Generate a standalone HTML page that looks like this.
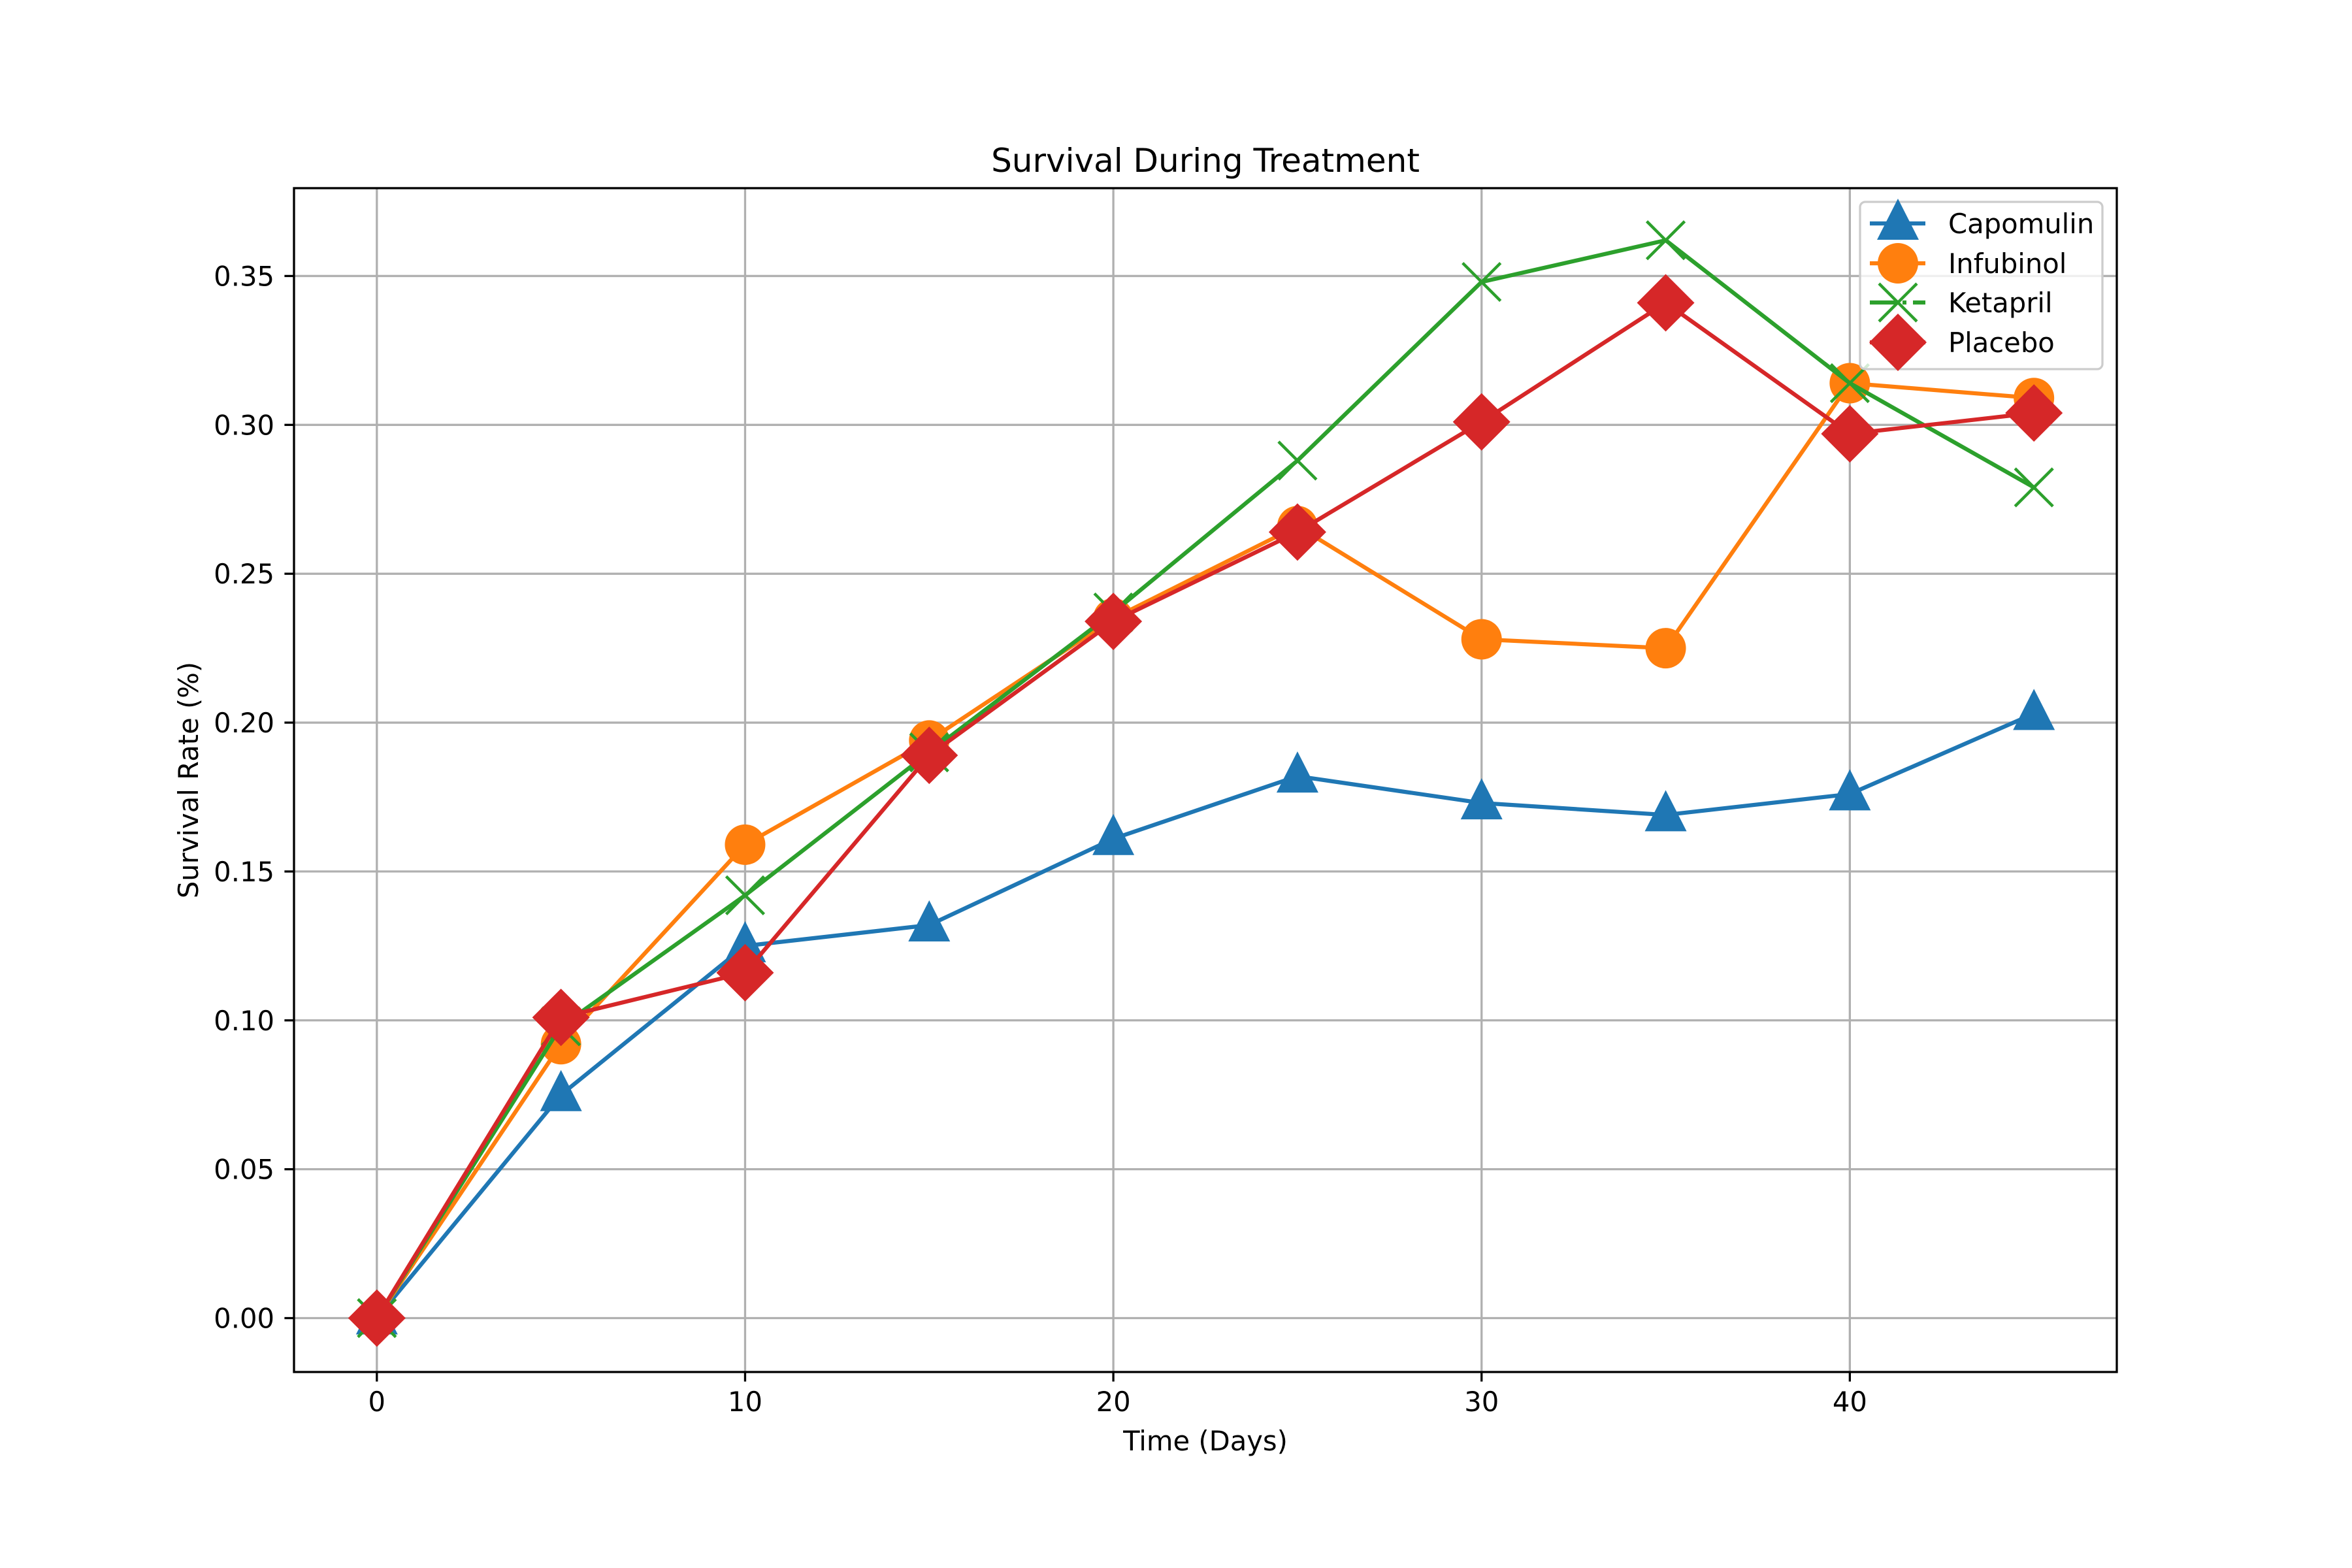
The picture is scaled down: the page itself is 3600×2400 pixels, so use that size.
<!DOCTYPE html>
<html><head><meta charset="utf-8"><style>
html,body{margin:0;padding:0;background:#fff;}
svg{display:block;}
text{font-family:"DejaVu Sans","Liberation Sans",sans-serif;fill:#000;}
</style></head><body>
<svg id="chart" width="3600" height="2400" viewBox="0 0 3600 2400" xmlns="http://www.w3.org/2000/svg">
<rect width="3600" height="2400" fill="#fff"/>
<g id="grid"></g>
<g id="series"></g>
<rect x="450" y="288" width="2790" height="1812" fill="none" stroke="#000" stroke-width="3.3"/>
<g id="ticks"></g>
<text x="1845" y="263" font-size="50" text-anchor="middle">Survival During Treatment</text>
<text x="1845" y="2220" font-size="41.7" text-anchor="middle">Time (Days)</text>
<text x="0" y="0" font-size="41.7" text-anchor="middle" transform="translate(303,1194) rotate(-90)">Survival Rate (%)</text>
<g id="legend">
<rect x="2847" y="309" width="371" height="256" rx="8" fill="#fff" fill-opacity="0.8" stroke="#cccccc" stroke-width="3.3"/>
</g>
</svg>
<script>
const days = [0,5,10,15,20,25,30,35,40,45];
const seriesNames = ["Capomulin","Infubinol","Ketapril","Placebo"];
const capomulin = [0,0.075,0.125,0.132,0.161,0.182,0.173,0.169,0.176,0.203];
const infubinol = [0,0.092,0.159,0.194,0.235,0.266,0.228,0.225,0.314,0.309];
const ketapril = [0,0.098,0.142,0.190,0.237,0.288,0.348,0.362,0.314,0.279];
const placebo = [0,0.101,0.116,0.189,0.234,0.264,0.301,0.341,0.297,0.304];
const xTicks = [0,10,20,30,40];
const yTicks = [0,0.05,0.10,0.15,0.20,0.25,0.30,0.35];
const yTickLabels = ["0.00","0.05","0.10","0.15","0.20","0.25","0.30","0.35"];

const NS = "http://www.w3.org/2000/svg";
const L=450,R=3240,T=288,B=2100;
const xMin=-2.25,xMax=47.25,yMin=-0.0181,yMax=0.3795;
function xs(v){return L+(v-xMin)/(xMax-xMin)*(R-L);}
function ys(v){return B-(v-yMin)/(yMax-yMin)*(B-T);}
function mk(tag,attrs,parent){const e=document.createElementNS(NS,tag);for(const k in attrs)e.setAttribute(k,attrs[k]);parent.appendChild(e);return e;}

const grid=document.getElementById('grid'),ticks=document.getElementById('ticks');
xTicks.forEach((t,i)=>{
  const x=xs(t);
  const g=mk('line',{x1:x,x2:x,y1:T,y2:B,stroke:'#b0b0b0','stroke-width':3.3},grid);
  
  
  const tk=mk('line',{x1:x,x2:x,y1:B,y2:B+14.6,stroke:'#000','stroke-width':3.3},ticks);
  
  
  const tx=mk('text',{x:x,y:B+60,'font-size':41.7,'text-anchor':'middle'},ticks);
  tx.textContent=String(t);
  
  
});
yTicks.forEach((t,i)=>{
  const y=ys(t);
  const g=mk('line',{x1:L,x2:R,y1:y,y2:y,stroke:'#b0b0b0','stroke-width':3.3},grid);
  
  
  const tk=mk('line',{x1:L-14.6,x2:L,y1:y,y2:y,stroke:'#000','stroke-width':3.3},ticks);
  
  
  const tx=mk('text',{x:L-30,y:y+15,'font-size':41.7,'text-anchor':'end'},ticks);
  tx.textContent=yTickLabels[i];
  
  
});

const colors=["#1f77b4","#ff7f0e","#2ca02c","#d62728"];
const markers=["tri","circ","x","diam"];
const values=[capomulin,infubinol,ketapril,placebo];

function marker(type,cx,cy,color,parent){
  let e;
  if(type==='tri'){e=mk('polygon',{points:`${cx},${cy-38} ${cx-32},${cy+25} ${cx+32},${cy+25}`,fill:color},parent);}
  else if(type==='circ'){e=mk('circle',{cx:cx,cy:cy,r:31,fill:color},parent);}
  else if(type==='diam'){e=mk('polygon',{points:`${cx},${cy-44} ${cx+44},${cy} ${cx},${cy+44} ${cx-44},${cy}`,fill:color},parent);}
  else {e=mk('path',{d:`M${cx-29},${cy-29}L${cx+29},${cy+29}M${cx-29},${cy+29}L${cx+29},${cy-29}`,stroke:color,'stroke-width':4.5,fill:'none'},parent);}
  return e;
}

const sg=document.getElementById('series');
values.forEach((vals,si)=>{
  const g=mk('g',{},sg);
  
  
  const pts=vals.map((v,i)=>xs(days[i])+','+ys(v)).join(' ');
  const pl=mk('polyline',{points:pts,fill:'none',stroke:colors[si],'stroke-width':6.25,'stroke-linejoin':'round','stroke-linecap':'square'},g);
  
  
  vals.forEach((v,i)=>{
    const m=marker(markers[si],xs(days[i]),ys(v),colors[si],g);
    
    
  });
});

const lg=document.getElementById('legend');
const rowY=[342,403,463,524];
seriesNames.forEach((n,i)=>{
  const g=mk('g',{},lg);
  
  
  const y=rowY[i];
  const ln=mk('line',{x1:2862,x2:2947,y1:y,y2:y,stroke:colors[i],'stroke-width':6.25},g);
  if(i===2){ln.setAttribute('stroke-dasharray','40,10,6,10');}
  marker(markers[i],2905,y,colors[i],g);
  const t=mk('text',{x:2982,y:y+15,'font-size':41.7},g);
  t.textContent=n;
});
</script>
</body></html>
